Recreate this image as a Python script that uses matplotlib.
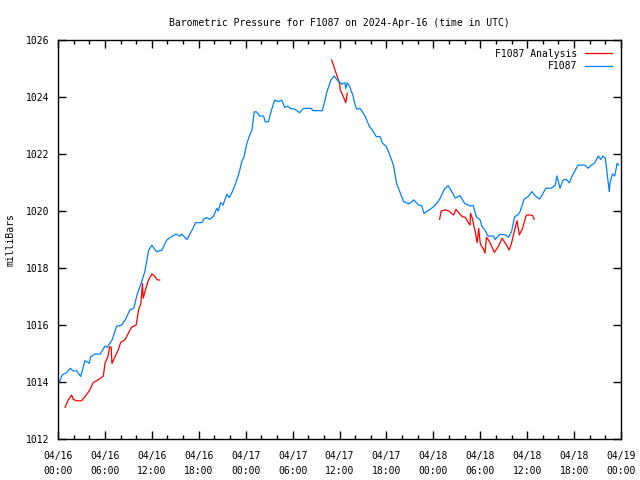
import matplotlib
matplotlib.use("Agg")
import matplotlib.pyplot as plt
from matplotlib.ticker import MultipleLocator

# hours since 2024-04-16 00:00 UTC, pressure in mb
obs_hours = [0.1, 0.55, 1.1, 1.6, 1.9, 2.4, 2.9, 3.45, 4.0, 4.2, 4.7, 5.4, 6.0, 6.3, 6.9,
             7.5, 8.1, 8.6, 9.2, 9.7, 10.1, 10.7, 11.1, 11.6, 12.0, 12.6, 13.3, 13.9, 14.5,
             15.1, 15.6, 15.8, 16.5, 17.2, 17.6, 18.4, 18.6, 19.0, 19.4, 19.9, 20.3, 20.5,
             20.8, 21.1, 21.6, 21.9, 22.3, 22.8, 23.2, 23.5, 23.8, 24.1, 24.5, 24.8, 25.1,
             25.4, 25.8, 26.3, 26.5, 26.9, 27.3, 27.7, 28.2, 28.6, 29.0, 29.4, 29.7, 30.3,
             30.9, 31.4, 31.8, 32.4, 32.6, 33.8, 34.1, 34.4, 34.9, 35.3, 35.7, 36.3, 36.7,
             36.8, 37.0, 37.3, 37.7, 38.0, 38.2, 38.6, 38.8, 39.3, 39.8, 40.2, 40.7, 41.2,
             41.5, 42.0, 42.5, 42.9, 43.3, 43.8, 44.2, 44.9, 45.5, 46.1, 46.5, 46.8, 47.6,
             48.2, 48.8, 49.4, 49.9, 50.3, 50.8, 51.4, 52.0, 52.7, 53.1, 53.5, 54.0, 54.2,
             54.6, 55.0, 55.7, 55.9, 56.5, 57.2, 57.6, 58.0, 58.4, 58.8, 59.1, 59.6, 60.1,
             60.6, 61.0, 61.6, 62.4, 63.1, 63.6, 63.8, 64.2, 64.6, 65.0, 65.4, 65.7, 66.1,
             66.5, 67.4, 67.8, 68.2, 68.6, 69.1, 69.4, 69.7, 70.0, 70.5, 70.6, 70.9, 71.2,
             71.5, 71.7]
obs_mb = [1013.95, 1014.25, 1014.33, 1014.48, 1014.39, 1014.39, 1014.19, 1014.75, 1014.66,
          1014.89, 1014.98, 1014.98, 1015.26, 1015.22, 1015.47, 1015.96, 1015.99, 1016.18,
          1016.53, 1016.59, 1017.05, 1017.52, 1017.87, 1018.63, 1018.8, 1018.57, 1018.63,
          1018.98, 1019.1, 1019.19, 1019.12, 1019.19, 1019.0, 1019.36, 1019.59, 1019.59,
          1019.71, 1019.77, 1019.71, 1019.82, 1020.09, 1020.0, 1020.29, 1020.21, 1020.59,
          1020.47, 1020.68, 1021.03, 1021.38, 1021.73, 1021.91, 1022.32, 1022.66, 1022.84,
          1023.48, 1023.48, 1023.33, 1023.33, 1023.13, 1023.13, 1023.54, 1023.89, 1023.84,
          1023.89, 1023.63, 1023.68, 1023.6, 1023.57, 1023.45, 1023.6, 1023.6, 1023.6,
          1023.52, 1023.52, 1023.84, 1024.19, 1024.6, 1024.74, 1024.6, 1024.45, 1024.5,
          1024.3, 1024.5, 1024.36, 1024.07, 1023.72, 1023.57, 1023.6, 1023.54, 1023.31,
          1022.98, 1022.84, 1022.61, 1022.61, 1022.38, 1022.26, 1021.91, 1021.61, 1020.97,
          1020.62, 1020.33, 1020.25, 1020.39, 1020.21, 1020.19, 1019.92, 1020.06, 1020.19,
          1020.41, 1020.76, 1020.89, 1020.71, 1020.45, 1020.54, 1020.27, 1020.18, 1020.19,
          1019.8, 1019.68, 1019.47, 1019.33, 1019.12, 1019.12, 1019.0, 1019.18, 1019.16,
          1019.08, 1019.27, 1019.8, 1019.86, 1019.98, 1020.41, 1020.5, 1020.68, 1020.54,
          1020.42, 1020.8, 1020.8, 1020.91, 1021.23, 1020.8, 1021.09, 1021.11, 1020.99,
          1021.2, 1021.41, 1021.61, 1021.61, 1021.5, 1021.61, 1021.67, 1021.93, 1021.81,
          1021.93, 1021.85, 1020.68, 1020.99, 1021.3, 1021.23, 1021.67, 1021.61]

# analysis comes in three separate runs
ana1_hours = [0.9, 1.3, 1.75, 1.95, 2.4, 3.0, 3.6, 4.0, 4.5, 5.2, 5.8, 6.0, 6.4, 6.6, 6.8,
              6.9, 7.3, 7.7, 8.0, 8.6, 9.0, 9.4, 10.0, 10.3, 10.6, 10.8, 10.9, 11.25,
              11.55, 12.0, 12.4, 12.7, 13.0]
ana1_mb = [1013.11, 1013.37, 1013.54, 1013.39, 1013.34, 1013.34, 1013.54, 1013.69, 1013.98,
           1014.09, 1014.21, 1014.65, 1014.91, 1015.24, 1015.22, 1014.65, 1014.89, 1015.12,
           1015.38, 1015.5, 1015.71, 1015.92, 1016.0, 1016.53, 1016.76, 1017.46, 1016.94,
           1017.29, 1017.56, 1017.79, 1017.7, 1017.58, 1017.58]
ana2_hours = [35.0, 35.5, 36.0, 36.1, 36.4, 36.8, 37.0]
ana2_mb = [1025.3, 1024.89, 1024.48, 1024.25, 1024.07, 1023.8, 1024.13]
ana3_hours = [48.8, 49.0, 49.5, 50.0, 50.3, 50.6, 50.9, 51.3, 51.7, 52.1, 52.4, 52.7, 52.75,
              53.0, 53.2, 53.4, 53.6, 53.8, 54.0, 54.2, 54.4, 54.6, 54.8, 55.2, 55.8, 56.3,
              56.8, 57.3, 57.7, 58.0, 58.4, 58.7, 59.0, 59.4, 59.9, 60.4, 60.7, 60.9]
ana3_mb = [1019.71, 1020.0, 1020.04, 1020.0, 1019.92, 1019.86, 1020.06, 1019.92, 1019.8,
           1019.78, 1019.62, 1019.51, 1019.92, 1019.74, 1019.45, 1019.22, 1018.89, 1019.39,
           1018.86, 1018.75, 1018.67, 1018.52, 1019.08, 1018.92, 1018.55, 1018.75, 1019.04,
           1018.83, 1018.63, 1018.87, 1019.33, 1019.66, 1019.16, 1019.39, 1019.86, 1019.86,
           1019.84, 1019.71]

tick_hours = list(range(0, 73, 6))
tick_labels = ["04/16\n00:00", "04/16\n06:00", "04/16\n12:00", "04/16\n18:00",
               "04/17\n00:00", "04/17\n06:00", "04/17\n12:00", "04/17\n18:00",
               "04/18\n00:00", "04/18\n06:00", "04/18\n12:00", "04/18\n18:00",
               "04/19\n00:00"]

plt.rcParams['font.family'] = 'DejaVu Sans Mono'
plt.rcParams['font.size'] = 7

fig = plt.figure(figsize=(6.4, 4.8), dpi=100)
ax = fig.add_axes([58 / 640, 41 / 480, 563 / 640, 399 / 480])

red = '#ff0000'
blue = '#0080ff'
ax.plot(ana1_hours, ana1_mb, color=red, lw=0.9, label='F1087 Analysis')
ax.plot(ana2_hours, ana2_mb, color=red, lw=0.9)
ax.plot(ana3_hours, ana3_mb, color=red, lw=0.9)
ax.plot(obs_hours, obs_mb, color=blue, lw=0.9, label='F1087')

ax.set_xlim(0, 72)
ax.set_ylim(1012, 1026)
ax.set_xticks(tick_hours)
ax.set_xticklabels(tick_labels, linespacing=1.6)
ax.xaxis.set_minor_locator(MultipleLocator(2))
ax.yaxis.set_major_locator(MultipleLocator(2))
ax.tick_params(which='both', direction='in', top=True, right=True, width=1)
ax.tick_params(which='major', length=6)
ax.tick_params(axis='x', which='major', pad=9)
ax.tick_params(axis='y', which='major', pad=6)
ax.tick_params(which='minor', length=3)
for s in ax.spines.values():
    s.set_linewidth(1)

ax.set_ylabel('milliBars', labelpad=8)
ax.set_title('Barometric Pressure for F1087 on 2024-Apr-16 (time in UTC)', fontsize=7, pad=10)
ax.legend(loc='upper right', frameon=False, markerfirst=False, handlelength=2.8,
          borderaxespad=0.3, labelspacing=0.25, handletextpad=0.8, borderpad=0.6)

fig.savefig('out.png', dpi=100)
